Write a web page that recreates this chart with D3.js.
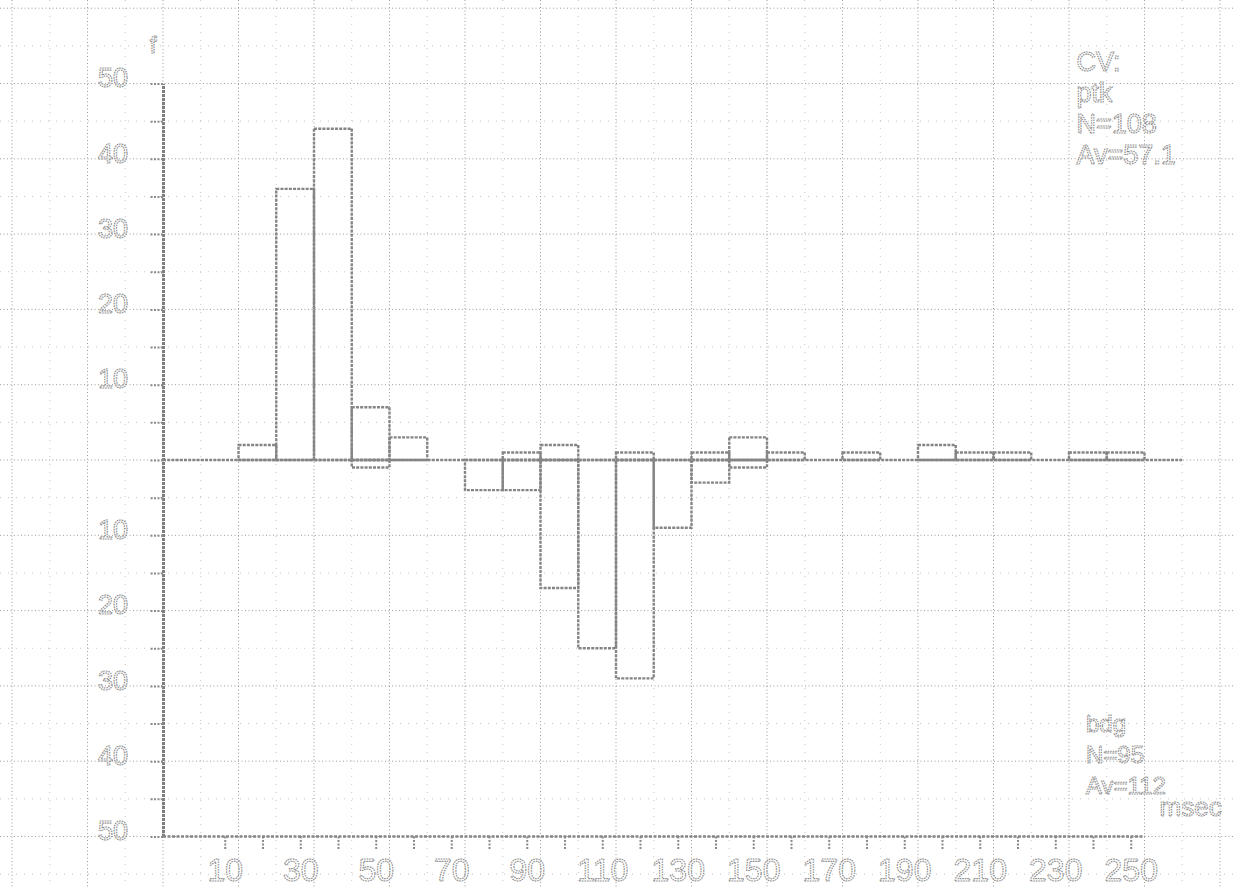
<!DOCTYPE html>
<html>
<head>
<meta charset="utf-8">
<script src="https://cdn.jsdelivr.net/npm/d3@7"></script>
<style>
  body { margin: 0; background: #fff; }
  svg { display: block; }
  .lbl { fill: none; stroke: #8c8c8c; stroke-width: 1.1; stroke-dasharray: 1.6,0.9; }
</style>
</head>
<body>
<div id="chart-area"></div>
<script>
// bins of 10 msec, lower edges
const bins = d3.range(0, 260, 10);
// ptk (top) and bdg (bottom) counts per bin
const ptkCounts = [0, 0, 2, 36, 44, 7, 3, 0, 0, 1, 2, 0, 1, 0, 1, 3, 1, 0, 1, 0, 2, 1, 1, 0, 1, 1];
const bdgCounts = [0, 0, 0, 0, 0, 1, 0, 0, 4, 4, 17, 25, 29, 9, 3, 1, 0, 0, 0, 0, 0, 0, 0, 0, 0, 0];

const yTicks = d3.range(-50, 51, 5);
const xTicks = d3.range(10, 251, 10);
const xLabels = [10, 30, 50, 70, 90, 110, 130, 150, 170, 190, 210, 230, 250];

const ptkText = ["CV:", "ptk", "N=108", "Av=57.1"];
const bdgText = ["bdg", "N=95", "Av=112"];

const W = 1235, H = 887;

const svg = d3.select("#chart-area")
    .append("svg")
        .attr("width", W)
        .attr("height", H);

// scales
const x = d3.scaleLinear().domain([0, 260]).range([163, 1144.5]);
const y = d3.scaleLinear().domain([-50, 50]).range([836.5, 83.5]);
// the msec ruler under the chart sits a bit to the right of the bins
const xr = d3.scaleLinear().domain([0, 260]).range([x(0) + 24, x(260) + 24]);

// graph paper
const grid = svg.append("g");
const minorX = d3.range(-40, 290, 10), minorY = d3.range(-60, 66, 5);
grid.selectAll(".mx").data(minorX.filter(d => d % 20 !== 0)).enter()
    .append("line")
        .attr("x1", d => x(d)).attr("x2", d => x(d))
        .attr("y1", 0).attr("y2", H)
        .attr("stroke", "#c4c4c4").attr("stroke-dasharray", "1,7");
grid.selectAll(".my").data(minorY.filter(d => d % 10 !== 0)).enter()
    .append("line")
        .attr("y1", d => y(d)).attr("y2", d => y(d))
        .attr("x1", 0).attr("x2", W)
        .attr("stroke", "#c4c4c4").attr("stroke-dasharray", "1,7");
grid.selectAll(".gx").data(minorX.filter(d => d % 20 === 0)).enter()
    .append("line")
        .attr("x1", d => x(d)).attr("x2", d => x(d))
        .attr("y1", 0).attr("y2", H)
        .attr("stroke", "#9c9c9c").attr("stroke-dasharray", "1,2.5");
grid.selectAll(".gy").data(minorY.filter(d => d % 10 === 0)).enter()
    .append("line")
        .attr("y1", d => y(d)).attr("y2", d => y(d))
        .attr("x1", 0).attr("x2", W)
        .attr("stroke", "#9c9c9c").attr("stroke-dasharray", "1,2.5");

const bw = x(10) - x(0);
const barStyle = (sel) => sel
    .attr("fill", "none")
    .attr("stroke", "#858585")
    .attr("stroke-width", 2.4)
    .attr("stroke-dasharray", "3,1.2");

// zero line
svg.append("line")
    .attr("x1", x(0)).attr("x2", x(270))
    .attr("y1", y(0)).attr("y2", y(0))
    .call(barStyle);

// ptk bars (up)
svg.selectAll(".ptk")
    .data(bins.map((b, i) => ({ b: b, v: ptkCounts[i] })).filter(d => d.v > 0))
    .enter()
    .append("rect")
        .attr("x", d => x(d.b))
        .attr("y", d => y(d.v))
        .attr("width", bw)
        .attr("height", d => y(0) - y(d.v))
        .call(barStyle);

// bdg bars (down)
svg.selectAll(".bdg")
    .data(bins.map((b, i) => ({ b: b, v: bdgCounts[i] })).filter(d => d.v > 0))
    .enter()
    .append("rect")
        .attr("x", d => x(d.b))
        .attr("y", y(0))
        .attr("width", bw)
        .attr("height", d => y(-d.v) - y(0))
        .call(barStyle);

// y axis
const yAxis = svg.append("g")
    .attr("transform", `translate(${x(0)},0)`)
    .call(d3.axisLeft(y)
        .tickValues(yTicks)
        .tickSize(13)
        .tickSizeOuter(0)
        .tickPadding(22)
        .tickFormat(d => (d % 10 === 0 && d !== 0) ? Math.abs(d) : ""));
yAxis.select(".domain")
    .attr("stroke", "#7e7e7e").attr("stroke-width", 3).attr("stroke-dasharray", "3,1");
yAxis.selectAll(".tick line")
    .attr("stroke", "#8a8a8a").attr("stroke-width", 2).attr("stroke-dasharray", "2,1.5");
yAxis.selectAll(".tick text")
    .attr("class", "lbl")
    .attr("dy", "0.12em")
    .style("font-family", "'Liberation Sans', Arial, sans-serif")
    .style("font-size", "27px");

// x baseline + msec ruler
svg.append("line")
    .attr("x1", x(0)).attr("x2", x(260))
    .attr("y1", y(-50)).attr("y2", y(-50))
    .attr("stroke", "#858585").attr("stroke-width", 2.4).attr("stroke-dasharray", "3,1.5");

const xAxis = svg.append("g")
    .attr("transform", `translate(0,${y(-50)})`)
    .call(d3.axisBottom(xr)
        .tickValues(xTicks)
        .tickSize(14)
        .tickPadding(8)
        .tickFormat(d => xLabels.includes(d) ? d : ""));
xAxis.select(".domain").remove();
xAxis.selectAll(".tick line")
    .attr("stroke", "#8a8a8a").attr("stroke-width", 2).attr("stroke-dasharray", "2,1.5");
xAxis.selectAll(".tick text")
    .attr("class", "lbl")
    .style("font-family", "'Liberation Sans Narrow', 'Liberation Sans', sans-serif")
    .style("font-size", "32px");

// f label
svg.append("text")
    .attr("class", "lbl")
    .attr("x", x(0) - 10).attr("y", y(50) - 31)
    .attr("text-anchor", "middle")
    .style("font-family", "'Liberation Sans', sans-serif")
    .style("font-size", "24px")
    .text("f");

// annotations
svg.selectAll(".ptkText")
    .data(ptkText).enter()
    .append("text")
        .attr("class", "lbl")
        .attr("x", x(242))
        .attr("y", (d, i) => y(50) - 13 + i * 31)
        .style("font-family", "'Liberation Sans', sans-serif")
        .style("font-size", "27px")
        .text(d => d);

svg.selectAll(".bdgText")
    .data(bdgText).enter()
    .append("text")
        .attr("class", "lbl")
        .attr("x", x(244.5))
        .attr("y", (d, i) => y(-35) + 8 + i * 31)
        .style("font-family", "'Liberation Sans', sans-serif")
        .style("font-size", "24px")
        .text(d => d);

svg.append("text")
    .attr("class", "lbl")
    .attr("x", x(264))
    .attr("y", y(-46) + 10)
    .style("font-family", "'Liberation Sans', sans-serif")
    .style("font-size", "26px")
    .text("msec");
</script>
</body>
</html>
